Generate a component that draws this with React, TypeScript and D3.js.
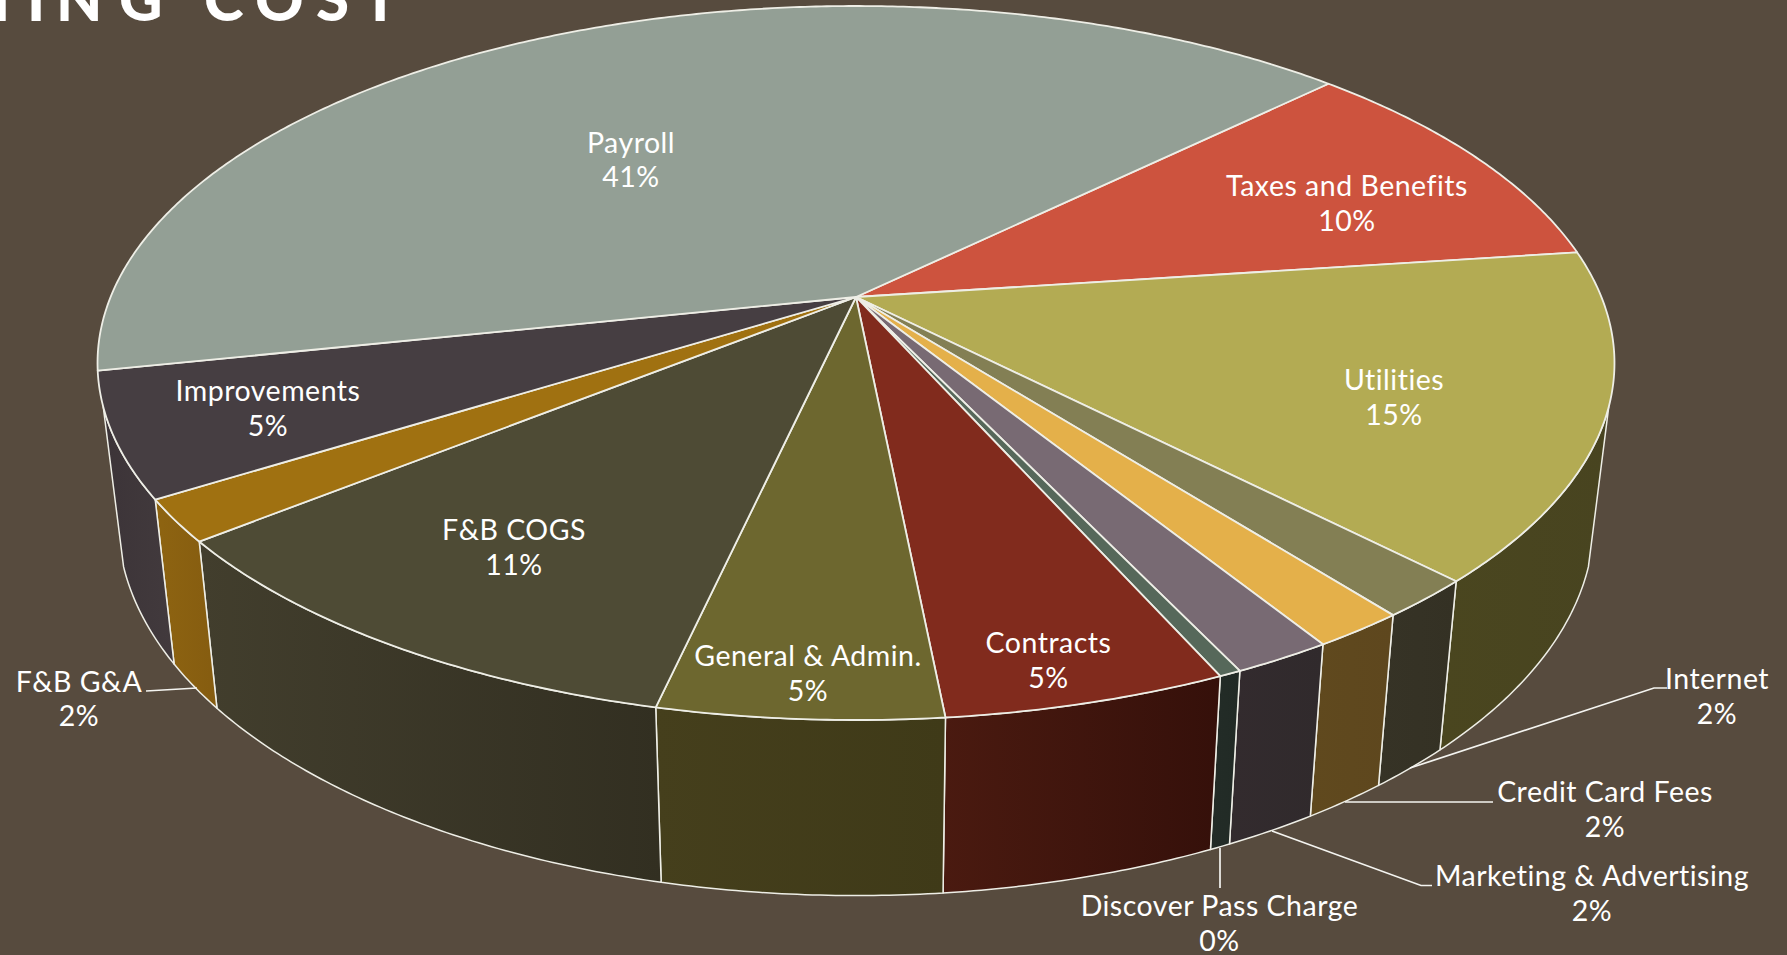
import React from "react";
import * as d3 from "d3";

const categories = ["Taxes and Benefits","Utilities","Internet","Credit Card Fees","Marketing & Advertising","Discover Pass Charge","Contracts","General & Admin.","F&B COGS","F&B G&A","Improvements","Payroll"];
const values = [10.2,14.82,1.76,1.7,1.8,0.4,5.1,5.1,10.69,1.9,5.6,41.03];
const percentLabels = ["10%","15%","2%","2%","2%","0%","5%","5%","11%","2%","5%","41%"];
const topColors = ["#cd533e","#b3ab53","#837f54","#e4b04a","#786a73","#56685a","#812b1d","#6d672f","#4e4b35","#a07111","#463e42","#939f95"];
const wallLeft = ["#5f2a20","#4a461f","#363326","#60491e","#332b2e","#232c27","#4a1a10","#453f1c","#423e2d","#8e6411","#3c3438","#4a504b"];
const wallRight = ["#5f2a20","#484420","#343124","#5e471e","#302a2c","#212a25","#35100a","#3f3a18","#322f21","#855c10","#423a3d","#4a504b"];
const labelX = [1347,1394,1717,1605,1592,1219.5,1048.5,808,514,79,268,631];
const labelY = [187,381,680,793,877,907,644,657,531,682.5,392,143.5];
const leaders: [number,number][][] = [
  [[1410,768],[1654,688],[1667,688]],
  [[1345,802],[1493,802]],
  [[1272,831],[1421,885.5],[1432,885.5]],
  [[1220,848],[1220,888]],
  [[197,688],[163,690],[146,691]],
];
const titleChars = "OPERATING COST";
const titleX = [-262,-202,-156,-112,-62,-17,27,56,119,175,204,255,316,362];

const W = 1787, H = 955;
const cx = 856, cy = 297, Rx = 745.4, Ry = 344.8, k = 0.1849;
const startDeg = 45.7;
const rad = Math.PI / 180;
const tangentStart = (90 + 17.5) * rad, tangentEnd = (90 + 162.5) * rad;

const project = (theta: number): [number, number] => {
  const X = Math.sin(theta), Y = -Math.cos(theta);
  const w = 1 - k * Y;
  return [cx + (Rx * X) / w, cy + (Ry * Y) / w];
};
const drop = ([x, y]: [number, number]): [number, number] => [
  cx + 0.973 * (x - cx),
  y + 164.5 + 0.05 * (y - 499),
];

const arcs = d3.pie<number>().sort(null).value((d) => d)
  .startAngle(startDeg * rad).endAngle((startDeg + 360) * rad)(values);

const samples = (a: number, b: number) => {
  const n = Math.max(2, Math.ceil((b - a) / (0.5 * rad)));
  return d3.range(n + 1).map((i) => a + ((b - a) * i) / n);
};
const line = d3.line<[number, number]>().curve(d3.curveLinear);

const stroke = "#eeeee6";

export default function App() {
  return (
    <svg width={W} height={H} viewBox={`0 0 ${W} ${H}`}
      style={{ position: "absolute", left: 0, top: 0, background: "#574b3e", display: "block" }}>
      <defs>
        {arcs.map((_, i) => (
          <linearGradient key={i} id={`w${i}`} x1="0" x2="1" y1="0" y2="0">
            <stop offset="0" stopColor={wallLeft[i]} />
            <stop offset="1" stopColor={wallRight[i]} />
          </linearGradient>
        ))}
      </defs>
      <rect width={W} height={H} fill="#574b3e" />
      <text x={titleX.join(" ")} y={21} fill="#fff" fontFamily="Lato" fontWeight={900} fontSize={60}>{titleChars}</text>
      {arcs.map((a, i) => {
        const s = Math.max(a.startAngle, tangentStart), e = Math.min(a.endAngle, tangentEnd);
        if (e <= s) return null;
        const t = samples(s, e).map(project);
        const pts = [...t, ...t.slice().reverse().map(drop)];
        return <path key={i} d={line(pts) + "Z"} fill={`url(#w${i})`} stroke={stroke} strokeWidth={1.5} strokeLinejoin="round" />;
      })}
      {arcs.map((a, i) => {
        const t = samples(a.startAngle, a.endAngle).map(project);
        return <path key={i} d={line([[cx, cy], ...t]) + "Z"} fill={topColors[i]} stroke={stroke} strokeWidth={1.8} strokeLinejoin="round" />;
      })}
      {leaders.map((l, i) => (
        <path key={i} d={line(l) ?? ""} fill="none" stroke="#f4f4f0" strokeWidth={1.7} />
      ))}
      {categories.map((c, i) => (
        <text key={c} textAnchor="middle" fill="#fff" fontFamily="Lato" fontSize={28.5} letterSpacing={0.5}>
          <tspan x={labelX[i]} y={labelY[i] + 9}>{c}</tspan>
          <tspan x={labelX[i]} y={labelY[i] + 43.5}>{percentLabels[i]}</tspan>
        </text>
      ))}
    </svg>
  );
}
